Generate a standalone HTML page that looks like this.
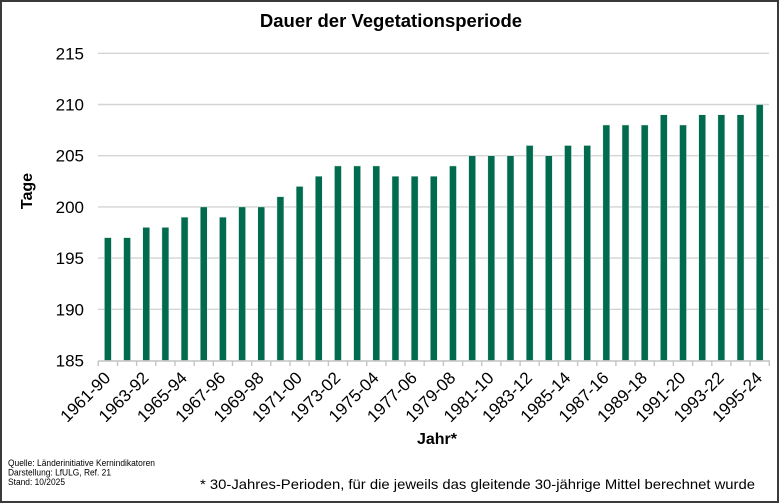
<!DOCTYPE html>
<html><head><meta charset="utf-8"><style>
html,body{margin:0;padding:0;background:#fff;}
svg{display:block;font-family:"Liberation Sans",Arial,sans-serif;}
</style></head><body>
<svg width="780" height="504" viewBox="0 0 780 504" xmlns="http://www.w3.org/2000/svg">
<rect x="0" y="0" width="780" height="504" fill="#fff"/>
<rect x="1" y="1" width="777" height="501" fill="none" stroke="#3a3a3a" stroke-width="2"/>
<text x="391" y="27" font-size="18.5" font-weight="bold" text-anchor="middle" fill="#000">Dauer der Vegetationsperiode</text>
<g stroke="#d4d4d4" stroke-width="1.4">
<line x1="98" y1="53.3" x2="769" y2="53.3"/>
<line x1="98" y1="104.5" x2="769" y2="104.5"/>
<line x1="98" y1="155.7" x2="769" y2="155.7"/>
<line x1="98" y1="206.9" x2="769" y2="206.9"/>
<line x1="98" y1="258.1" x2="769" y2="258.1"/>
<line x1="98" y1="309.3" x2="769" y2="309.3"/>
</g>
<g font-size="17" text-anchor="end" fill="#000">
<text x="84" y="59.3">215</text>
<text x="84" y="110.5">210</text>
<text x="84" y="161.7">205</text>
<text x="84" y="212.9">200</text>
<text x="84" y="264.1">195</text>
<text x="84" y="315.3">190</text>
<text x="84" y="366.5">185</text>
</g>
<g fill="#006b4f" stroke="#e6efe9" stroke-width="0.5">
<rect x="104.39" y="237.62" width="7" height="122.88"/>
<rect x="123.56" y="237.62" width="7" height="122.88"/>
<rect x="142.73" y="227.38" width="7" height="133.12"/>
<rect x="161.90" y="227.38" width="7" height="133.12"/>
<rect x="181.07" y="217.14" width="7" height="143.36"/>
<rect x="200.25" y="206.9" width="7" height="153.6"/>
<rect x="219.42" y="217.14" width="7" height="143.36"/>
<rect x="238.59" y="206.9" width="7" height="153.6"/>
<rect x="257.76" y="206.9" width="7" height="153.6"/>
<rect x="276.93" y="196.66" width="7" height="163.84"/>
<rect x="296.10" y="186.42" width="7" height="174.08"/>
<rect x="315.27" y="176.18" width="7" height="184.32"/>
<rect x="334.44" y="165.94" width="7" height="194.56"/>
<rect x="353.61" y="165.94" width="7" height="194.56"/>
<rect x="372.78" y="165.94" width="7" height="194.56"/>
<rect x="391.96" y="176.18" width="7" height="184.32"/>
<rect x="411.13" y="176.18" width="7" height="184.32"/>
<rect x="430.30" y="176.18" width="7" height="184.32"/>
<rect x="449.47" y="165.94" width="7" height="194.56"/>
<rect x="468.64" y="155.7" width="7" height="204.8"/>
<rect x="487.81" y="155.7" width="7" height="204.8"/>
<rect x="506.98" y="155.7" width="7" height="204.8"/>
<rect x="526.15" y="145.46" width="7" height="215.04"/>
<rect x="545.32" y="155.7" width="7" height="204.8"/>
<rect x="564.49" y="145.46" width="7" height="215.04"/>
<rect x="583.67" y="145.46" width="7" height="215.04"/>
<rect x="602.84" y="124.98" width="7" height="235.52"/>
<rect x="622.01" y="124.98" width="7" height="235.52"/>
<rect x="641.18" y="124.98" width="7" height="235.52"/>
<rect x="660.35" y="114.74" width="7" height="245.76"/>
<rect x="679.52" y="124.98" width="7" height="235.52"/>
<rect x="698.69" y="114.74" width="7" height="245.76"/>
<rect x="717.86" y="114.74" width="7" height="245.76"/>
<rect x="737.03" y="114.74" width="7" height="245.76"/>
<rect x="756.20" y="104.5" width="7" height="256"/>
</g>
<g stroke="#c4c4c4" stroke-width="1.4" fill="none">
<line x1="98" y1="361" x2="770" y2="361"/>
<path d="M98.3 361v5M117.5 361v5M136.6 361v5M155.8 361v5M175.0 361v5M194.2 361v5M213.3 361v5M232.5 361v5M251.7 361v5M270.8 361v5M290.0 361v5M309.2 361v5M328.4 361v5M347.5 361v5M366.7 361v5M385.9 361v5M405.0 361v5M424.2 361v5M443.4 361v5M462.6 361v5M481.7 361v5M500.9 361v5M520.1 361v5M539.2 361v5M558.4 361v5M577.6 361v5M596.8 361v5M615.9 361v5M635.1 361v5M654.3 361v5M673.4 361v5M692.6 361v5M711.8 361v5M730.9 361v5M750.1 361v5M769.3 361v5"/>
</g>
<g font-size="17" text-anchor="end" fill="#000">
<text transform="translate(111.4,379) rotate(-45)">1961-90</text>
<text transform="translate(149.7,379) rotate(-45)">1963-92</text>
<text transform="translate(188.1,379) rotate(-45)">1965-94</text>
<text transform="translate(226.4,379) rotate(-45)">1967-96</text>
<text transform="translate(264.8,379) rotate(-45)">1969-98</text>
<text transform="translate(303.1,379) rotate(-45)">1971-00</text>
<text transform="translate(341.4,379) rotate(-45)">1973-02</text>
<text transform="translate(379.8,379) rotate(-45)">1975-04</text>
<text transform="translate(418.1,379) rotate(-45)">1977-06</text>
<text transform="translate(456.5,379) rotate(-45)">1979-08</text>
<text transform="translate(494.8,379) rotate(-45)">1981-10</text>
<text transform="translate(533.2,379) rotate(-45)">1983-12</text>
<text transform="translate(571.5,379) rotate(-45)">1985-14</text>
<text transform="translate(609.8,379) rotate(-45)">1987-16</text>
<text transform="translate(648.2,379) rotate(-45)">1989-18</text>
<text transform="translate(686.5,379) rotate(-45)">1991-20</text>
<text transform="translate(724.9,379) rotate(-45)">1993-22</text>
<text transform="translate(763.2,379) rotate(-45)">1995-24</text>
</g>
<text transform="translate(32,191) rotate(-90)" font-size="16" font-weight="bold" text-anchor="middle" fill="#000">Tage</text>
<text x="437" y="444" font-size="16" font-weight="bold" text-anchor="middle" fill="#000">Jahr*</text>
<g font-size="9" fill="#000">
<text x="8" y="466" textLength="147" lengthAdjust="spacingAndGlyphs">Quelle:  Länderinitiative  Kernindikatoren</text>
<text x="8" y="475.5" textLength="103" lengthAdjust="spacingAndGlyphs">Darstellung:  LfULG, Ref. 21</text>
<text x="8" y="485" textLength="57" lengthAdjust="spacingAndGlyphs">Stand:  10/2025</text>
</g>
<text x="200" y="489" font-size="14" fill="#000" textLength="555" lengthAdjust="spacingAndGlyphs">* 30-Jahres-Perioden, für die jeweils das gleitende 30-jährige Mittel berechnet wurde</text>
</svg>
</body></html>
